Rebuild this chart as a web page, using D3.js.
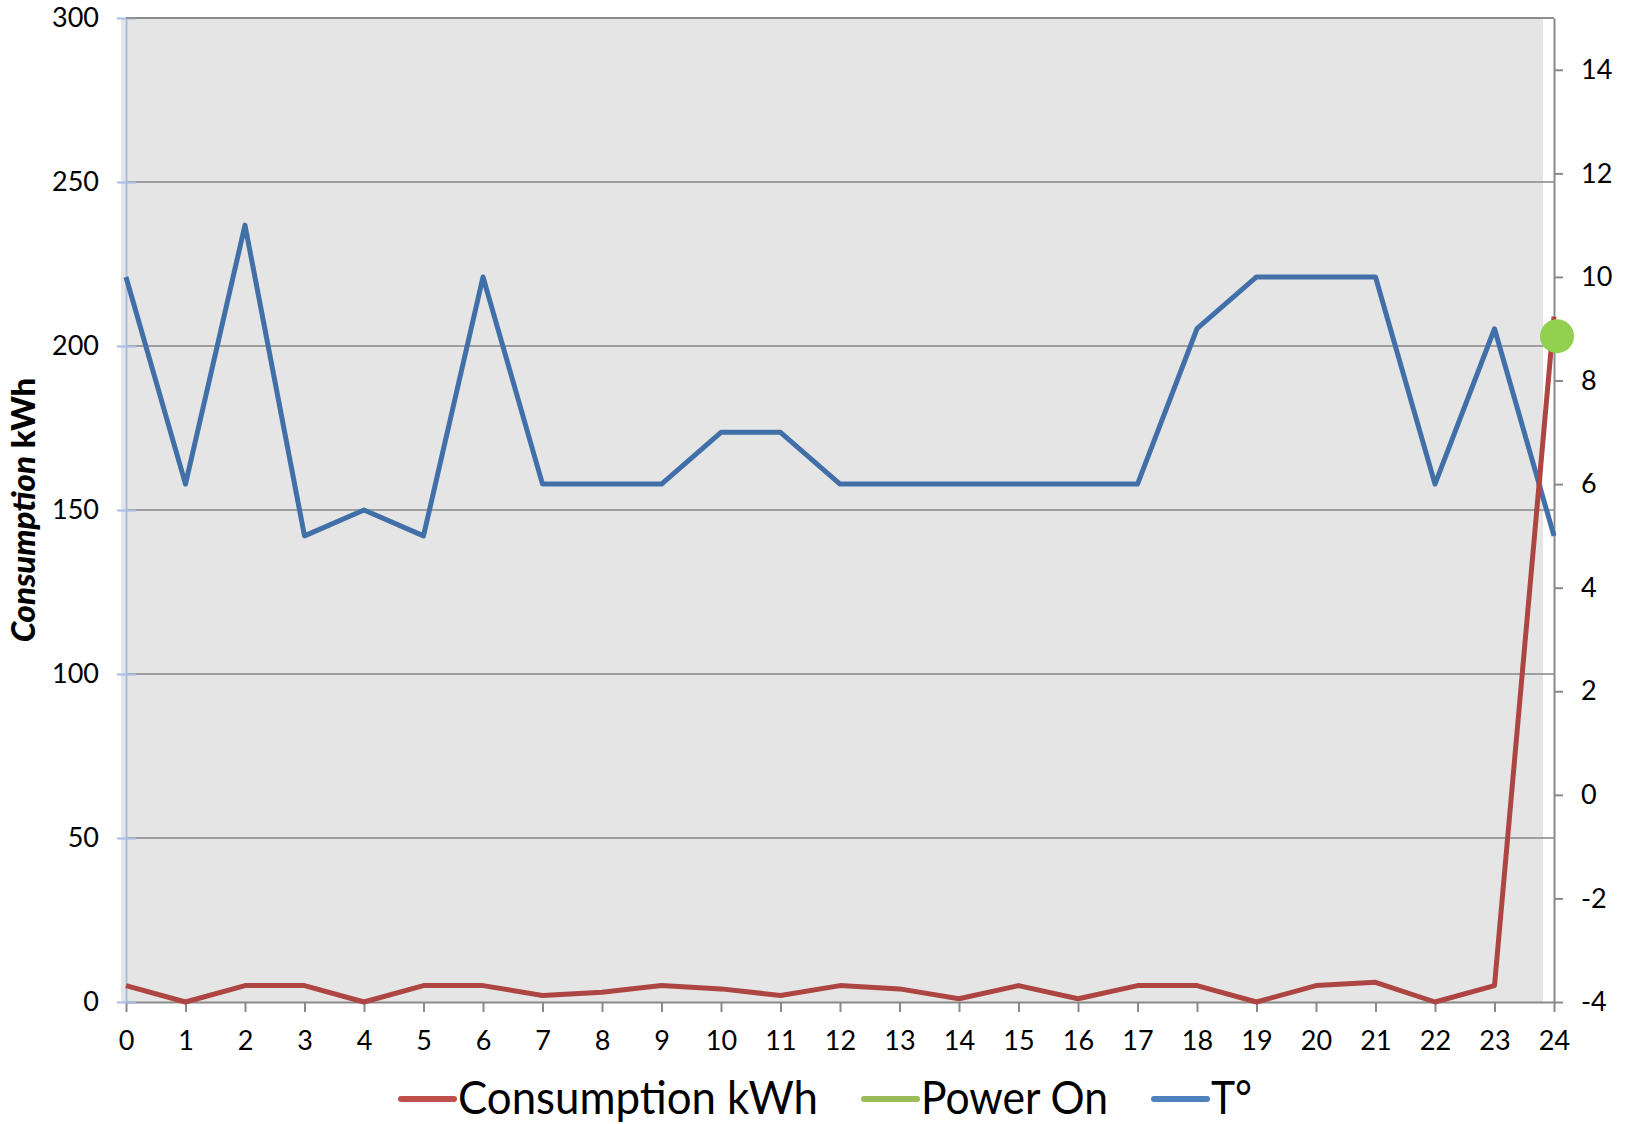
<!DOCTYPE html>
<html>
<head>
<meta charset="utf-8">
<script src="https://cdn.jsdelivr.net/npm/d3@7"></script>
<style>
  html, body { margin: 0; padding: 0; background: #fff; }
  svg { display: block; }
  text { font-family: Lato, "Open Sans", sans-serif; fill: #000; }
</style>
</head>
<body>
<svg id="chart" width="1633" height="1124"></svg>
<script>
// ---- data ----
const hours = [0,1,2,3,4,5,6,7,8,9,10,11,12,13,14,15,16,17,18,19,20,21,22,23,24];
const consumption = [5,0,5,5,0,5,5,2,3,5,4,2,5,4,1,5,1,5,5,0,5,6,0,5,209];
const temperature = [10,6,11,5,5.5,5,10,6,6,6,7,7,6,6,6,6,6,6,9,10,10,10,6,9,5];
const powerOnHours = [24];
const powerOnValues = [203];
const leftTicks = [0,50,100,150,200,250,300];
const rightTicks = [-4,-2,0,2,4,6,8,10,12,14];
const seriesNames = ["Consumption kWh", "Power On", "T°"];
const yTitleParts = ["Consumption", " kWh"];

// ---- layout ----
const W = 1633, H = 1124;
const plotL = 126, plotR = 1554, plotT = 18, plotB = 1002;
const svg = d3.select("#chart");

const x = d3.scaleLinear().domain([0, 24]).range([plotL, plotR]);
const yL = d3.scaleLinear().domain([0, 300]).range([plotB, plotT]);
const yR = d3.scaleLinear().domain([-4, 15]).range([plotB, plotT]);

// plot background
svg.append("rect")
  .attr("x", plotL - 5).attr("y", plotT)
  .attr("width", 1543 - (plotL - 5)).attr("height", plotB - plotT)
  .attr("fill", "#e5e5e5");

// grid lines
svg.append("g").selectAll("line")
  .data(leftTicks.filter(d => d > 0))
  .join("line")
  .attr("x1", plotL).attr("x2", plotR)
  .attr("y1", d => yL(d)).attr("y2", d => yL(d))
  .attr("stroke", "#868686").attr("stroke-width", 1.6);

// bottom axis
const gx = svg.append("g")
  .attr("transform", `translate(0,${plotB})`)
  .call(d3.axisBottom(x).tickValues(hours).tickFormat(d3.format("d"))
        .tickSizeInner(10).tickSizeOuter(0).tickPadding(19));
gx.select(".domain").attr("stroke", "#8a8a8a").attr("stroke-width", 2);
gx.selectAll(".tick line").attr("stroke", "#8a8a8a").attr("stroke-width", 2);
gx.selectAll(".tick text").attr("font-size", 27).style("font-family", "Lato");

// left axis
const gl = svg.append("g")
  .attr("transform", `translate(${plotL},0)`)
  .call(d3.axisLeft(yL).tickValues(leftTicks).tickFormat(d3.format("d"))
        .tickSizeInner(9).tickSizeOuter(0).tickPadding(18));
gl.select(".domain").attr("stroke", "#a7bde2").attr("stroke-width", 2);
gl.selectAll(".tick line").attr("x1", 10).attr("x2", -9)
  .attr("stroke", "#a7bde2").attr("stroke-width", 2);
gl.selectAll(".tick text").attr("font-size", 27).style("font-family", "Lato");

// right axis
const gr = svg.append("g")
  .attr("transform", `translate(${plotR},0)`)
  .call(d3.axisRight(yR).tickValues(rightTicks).tickFormat(d3.format("d"))
        .tickSizeInner(9).tickSizeOuter(0).tickPadding(18));
gr.select(".domain").attr("stroke", "#8a8a8a").attr("stroke-width", 2);
gr.selectAll(".tick line").attr("stroke", "#8a8a8a").attr("stroke-width", 2);
gr.selectAll(".tick text").attr("font-size", 27).style("font-family", "Lato")
  .text(d => d < 0 ? "-" + Math.abs(d) : d);

// top border line (300)
svg.append("line")
  .attr("x1", plotL).attr("x2", plotR)
  .attr("y1", yL(300)).attr("y2", yL(300))
  .attr("stroke", "#868686").attr("stroke-width", 1.6);

// lines
const tempLine = d3.line().x((d, i) => x(hours[i])).y(d => yR(d));
svg.append("path")
  .attr("d", tempLine(temperature))
  .attr("fill", "none").attr("stroke", "#4170a9")
  .attr("stroke-width", 5).attr("stroke-linejoin", "round");

const consLine = d3.line().x((d, i) => x(hours[i])).y(d => yL(d));
svg.append("path")
  .attr("d", consLine(consumption))
  .attr("fill", "none").attr("stroke", "#ad4542")
  .attr("stroke-width", 5).attr("stroke-linejoin", "round");

// power on marker
svg.append("g").selectAll("circle")
  .data(powerOnValues)
  .join("circle")
  .attr("cx", (d, i) => x(powerOnHours[i]) + 3)
  .attr("cy", d => yL(d))
  .attr("r", 17)
  .attr("fill", "#92d050");

// y axis title
const yt = svg.append("text")
  .attr("transform", `translate(35,${(plotT + plotB) / 2}) rotate(-90)`)
  .attr("text-anchor", "middle")
  .attr("font-size", 33)
  .attr("font-weight", "900");
yt.append("tspan").attr("font-style", "italic").text(yTitleParts[0]);
yt.append("tspan").text(yTitleParts[1]);

// legend
const legendColors = ["#c0504d", "#9bbb59", "#4f81bd"];
const legendTextWidths = [360, 187, 41];
const lg = svg.append("g");
let cx = 401;
const lineY = 1099, baseY = 1114;
seriesNames.forEach((name, i) => {
  lg.append("line")
    .attr("x1", cx).attr("x2", cx + 53)
    .attr("y1", lineY).attr("y2", lineY)
    .attr("stroke", legendColors[i]).attr("stroke-width", 6)
    .attr("stroke-linecap", "round");
  lg.append("text")
    .attr("x", cx + 57).attr("y", baseY)
    .attr("font-size", 46)
    .attr("textLength", legendTextWidths[i])
    .attr("lengthAdjust", "spacingAndGlyphs")
    .text(name);
  cx += 57 + legendTextWidths[i] + 46;
});
</script>
</body>
</html>
